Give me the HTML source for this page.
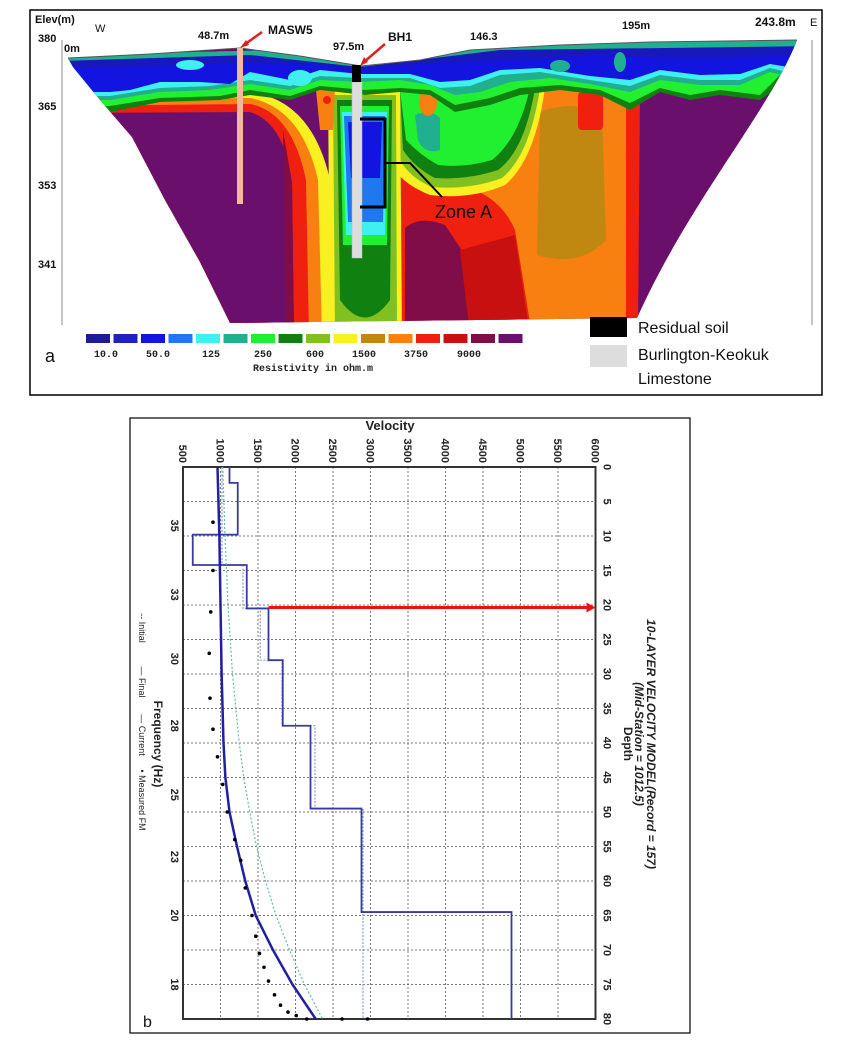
<!DOCTYPE html>
<html><head><meta charset="utf-8"><style>
body{margin:0;background:#fff;width:855px;height:1051px;overflow:hidden;font-family:"Liberation Sans",sans-serif}
svg{position:absolute;left:0;top:0}
</style></head><body>
<svg width="855" height="1051" viewBox="0 0 855 1051">
<g>
<rect x="30" y="10" width="792" height="385" fill="#fff" stroke="#000" stroke-width="1.5"/>
<defs><clipPath id="sec"><path d="M68,58 L150,54 L240,48 L300,56 L361,66 L420,60 L470,50 L560,45 L650,42 L797,40 C770,110 690,200 637,318 L230,323 L200,262 L165,200 L132,137 L100,100 L73,67 Z"/></clipPath></defs>
<g clip-path="url(#sec)">
<rect x="60" y="35" width="760" height="300" fill="#6a106c"/>
<path d="M470,92 L655,85 L645,335 L470,335Z" fill="#f88010"/>
<path d="M540,112 Q570,100 602,112 L606,240 Q580,268 537,255Z" fill="#c08810"/>
<rect x="578" y="92" width="25" height="38" rx="4" fill="#f02010"/>
<path d="M626,100 L660,90 L650,335 L626,335Z" fill="#f02010"/>
<path d="M640,92 L800,58 L800,335 L638,335Z" fill="#6a106c"/>
<path d="M625,75 L800,60 L800,70 L700,75 L640,95 Z" fill="#f02010"/>
<path d="M395,140 L460,185 Q500,195 515,230 L532,335 L395,335Z" fill="#f02010"/>
<path d="M405,228 Q420,215 445,225 L465,255 L472,335 L405,335Z" fill="#800c48"/>
<path d="M460,250 L515,235 L530,335 L470,335Z" fill="#c81010"/>
<path d="M395,90 L545,88 Q535,160 505,185 Q470,200 430,195 Q405,185 395,170Z" fill="#f8f020"/>
<path d="M398,90 L540,88 Q530,155 502,178 Q470,190 432,187 Q410,178 400,160Z" fill="#80c020"/>
<path d="M400,90 L535,88 Q525,150 498,170 Q468,180 435,178 Q415,168 403,150Z" fill="#108010"/>
<path d="M400,90 L530,88 Q518,140 492,160 Q465,168 438,165 Q420,155 406,140Z" fill="#20f030"/>
<path d="M415,115 Q430,108 440,118 L440,150 Q425,155 418,140Z" fill="#20b090"/>
<path d="M60,95 L250,92 Q312,100 330,180 L334,335 L60,335Z" fill="#f8f020"/>
<path d="M60,100 L250,98 Q302,108 318,180 L322,335 L60,335Z" fill="#f88010"/>
<path d="M60,106 L250,104 Q292,112 306,180 L309,335 L60,335Z" fill="#f02010"/>
<path d="M60,113 L250,112 Q284,122 292,183 L294,335 L60,335Z" fill="#6a106c"/>
<path d="M283,130 L292,183 L294,335 L286,335 Z" fill="#800c48"/>
<path d="M328,88 L400,88 L402,335 L330,335Z" fill="#f8f020"/>
<path d="M333,95 L396,95 L397,335 L335,335Z" fill="#80c020"/>
<path d="M337,100 L392,100 L390,300 Q365,335 340,300Z" fill="#108010"/>
<path d="M340,106 L389,106 L387,245 L343,245Z" fill="#20f030"/>
<path d="M342,112 L387,112 L385,235 L346,235Z" fill="#3ef0f0"/>
<path d="M344,116 L385,116 L383,222 L348,222Z" fill="#1e78f0"/>
<path d="M348,122 L382,122 L380,178 L351,178Z" fill="#1414e0"/>
<path d="M316,90 L335,88 L333,130 L320,130Z" fill="#f88010"/>
<ellipse cx="327" cy="100" rx="4" ry="4" fill="#f02010"/>
<ellipse cx="428" cy="102" rx="9" ry="14" fill="#f88010"/>
<path d="M60,55 L820,38 L820,105 L790,80 L760,100 L720,95 L690,100 L660,92 L630,110 L600,95 L560,90 L520,95 L490,105 L455,112 L430,95 L400,92 L365,95 L320,90 L290,100 L250,95 L220,100 L160,102 L110,112 L60,112Z" fill="#108010"/>
<path d="M60,55 L820,38 L820,95 L780,75 L760,95 L720,90 L690,95 L660,88 L630,103 L600,90 L560,85 L520,88 L490,98 L455,105 L430,90 L400,88 L365,90 L320,86 L290,96 L250,90 L220,96 L160,98 L110,106 L60,106Z" fill="#20f030"/>
<path d="M60,55 L820,38 L820,85 L770,72 L740,85 L700,85 L660,80 L630,92 L590,84 L550,78 L510,82 L480,92 L455,95 L430,85 L400,80 L360,82 L320,80 L290,90 L250,84 L210,90 L160,92 L110,100 L60,100Z" fill="#20b090"/>
<path d="M60,55 L820,38 L820,80 L770,68 L740,80 L700,80 L660,75 L630,86 L590,80 L540,72 L500,75 L470,86 L440,88 L410,78 L360,78 L320,76 L290,86 L250,80 L210,86 L160,88 L110,96 L60,96Z" fill="#3ef0f0"/>
<path d="M60,55 L820,38 L820,72 L770,64 L740,74 L700,75 L660,70 L630,80 L590,76 L540,68 L500,70 L470,80 L440,82 L410,74 L360,74 L320,70 L290,80 L250,72 L230,84 L200,82 L160,82 L130,90 L110,92 L60,92Z" fill="#1414e0"/>
<path d="M60,55 L820,38 L820,55 L700,58 L600,56 L500,60 L420,64 L360,70 L300,63 L200,64 L100,68 L60,68Z" fill="#1c1c9a" opacity="0.5"/>
<path d="M60,55 L820,38 L820,46 L500,50 L360,67 L250,55 L60,61Z" fill="#20b090"/>
<ellipse cx="190" cy="65" rx="14" ry="5" fill="#3ef0f0"/>
<ellipse cx="300" cy="78" rx="12" ry="8" fill="#3ef0f0"/>
<ellipse cx="620" cy="62" rx="6" ry="10" fill="#20b090"/>
<ellipse cx="560" cy="66" rx="10" ry="6" fill="#20b090"/>
</g>
<path d="M68,58 L150,54 L240,48 L300,56 L361,66 L420,60 L470,50 L560,45 L650,42 L797,40" fill="none" stroke="#555" stroke-width="1"/>
<line x1="62" y1="40" x2="62" y2="325" stroke="#888"/>
<line x1="812" y1="40" x2="812" y2="325" stroke="#888"/>
<rect x="237" y="48" width="6" height="156" fill="#f4b8a0"/>
<rect x="352" y="82" width="10" height="176" fill="#ddd" stroke="#bbb" stroke-width="0.5"/>
<rect x="352" y="65" width="9" height="17" fill="#000"/>
<g stroke="#000" stroke-width="3" fill="none">
<path d="M360,119 L385,119 L385,207 L360,207"/><path d="M385,163 L410,163 L442,197" stroke-width="2"/></g>
<g stroke="#e02020" stroke-width="2.5" fill="#e02020">
<line x1="262" y1="32" x2="244" y2="45"/><polygon points="240,48 246,40 249,45" stroke="none"/>
<line x1="385" y1="44" x2="364" y2="62"/><polygon points="360,66 364,57 368,62" stroke="none"/></g>
<g font-size="11" font-weight="bold" fill="#111">
<text x="35" y="23">Elev(m)</text>
<text x="38" y="42">380</text>
<text x="38" y="110">365</text>
<text x="38" y="189">353</text>
<text x="38" y="268">341</text>
<text x="64" y="52">0m</text>
<text x="95" y="32" font-weight="normal">W</text>
<text x="198" y="39">48.7m</text>
<text x="268" y="34" font-size="12">MASW5</text>
<text x="333" y="50">97.5m</text>
<text x="388" y="41" font-size="12">BH1</text>
<text x="470" y="40">146.3</text>
<text x="622" y="29">195m</text>
<text x="755" y="26" font-size="12">243.8m</text>
<text x="810" y="26" font-weight="normal">E</text>
</g>
<text x="435" y="218" font-size="18" fill="#111">Zone A</text>
<g id="cbar"></g>
<g font-family="Liberation Mono" font-size="10" font-weight="bold" fill="#222">
<text x="94" y="357">10.0</text><text x="146" y="357">50.0</text><text x="202" y="357">125</text><text x="254" y="357">250</text><text x="306" y="357">600</text><text x="352" y="357">1500</text><text x="404" y="357">3750</text><text x="457" y="357">9000</text>
<text x="313" y="371" text-anchor="middle">Resistivity in ohm.m</text></g>
<text x="45" y="362" font-size="18" fill="#111">a</text>
<rect x="590" y="317" width="37" height="20" fill="#000"/>
<rect x="590" y="345" width="37" height="22" fill="#ddd"/>
<g font-size="16" fill="#111">
<text x="638" y="333">Residual soil</text><text x="638" y="360">Burlington-Keokuk</text><text x="638" y="384">Limestone</text></g>
</g>
<g>
<rect x="130" y="418" width="560" height="615" fill="#fff" stroke="#000" stroke-width="1.2"/>
<g id="chart"></g>
<text x="143" y="1027" font-size="16" fill="#111">b</text>
</g>
</svg>
<script>
const NS='http://www.w3.org/2000/svg';
const cbarColors=['#1a1a7a','#1c1c9a','#2020c0','#1414e0','#1e78f0','#3ef0f0','#20b090','#20f030','#108010','#80c020','#f8f020','#c08810','#f88010','#f02010','#c81010','#800c48','#6a106c'];
const cb=document.getElementById('cbar');
cbarColors.slice(1).forEach((c,i)=>{const r=document.createElementNS(NS,'rect');
r.setAttribute('x',86+i*27.5);r.setAttribute('y',334);r.setAttribute('width',24);r.setAttribute('height',9);r.setAttribute('fill',c);


cb.appendChild(r);});

const velTicks=[500,1000,1500,2000,2500,3000,3500,4000,4500,5000,5500,6000];
const depthTicks=[0,5,10,15,20,25,30,35,40,45,50,55,60,65,70,75,80];
const freqLabels=['35','33','30','28','25','23','20','18'];
const freqDepths=[8.5,18.5,27.8,37.5,47.5,56.5,65,75];
const finalDepths=[0,2.3,9.8,14.2,20.5,28,37.5,49.5,64.5,80];
const finalVels=[1120,1230,630,1350,1640,1830,2200,2880,4880];
const initDepths=[0,14.2,20.5,28,37.5,49.5,64.5];
const initVels=[1020,1300,1530,1820,2260,2900,2900];
const curveDepths=[0,10,20,30,40,45,50,55,60,65,70,75,80];
const curveVels=[960,985,1000,1015,1040,1065,1120,1220,1330,1470,1700,1960,2270];
const greenVels=[1030,1060,1100,1160,1250,1310,1390,1480,1600,1740,1920,2120,2360];
const measDepths=[8,15,21,27,33.5,38,42,46,50,54,57,61,65,68,70.5,72.5,74.5,76.5,78,79,79.5,80,80,80];
const measVels=[900,900,870,850,860,900,960,1030,1090,1190,1270,1330,1420,1470,1520,1580,1640,1720,1800,1900,2010,2150,2620,2960];
const redDepth=20.5;

const X=v=>183+(v-500)/500*37.5;
const Y=d=>467+d*6.9;
const g=document.getElementById('chart');
function mk(tag,attrs,name){const e=document.createElementNS(NS,tag);for(const k in attrs)e.setAttribute(k,attrs[k]);


g.appendChild(e);return e;}
velTicks.forEach(v=>{mk('line',{x1:X(v),x2:X(v),y1:Y(0),y2:Y(80),stroke:'#777','stroke-width':1,'stroke-dasharray':'2,2'},'grid-vertical');
const t=mk('text',{x:0,y:0,'font-size':11,'font-weight':'bold',fill:'#222',transform:`translate(${X(v)-4},${Y(0)-4}) rotate(90)`,'text-anchor':'end'},'velocity-tick-label');t.textContent=v;});
depthTicks.forEach(d=>{mk('line',{x1:X(500),x2:X(6000),y1:Y(d),y2:Y(d),stroke:'#777','stroke-width':1,'stroke-dasharray':'2,2'},'grid-horizontal');
const t=mk('text',{x:0,y:0,'font-size':11,'font-weight':'bold',fill:'#222',transform:`translate(${X(6000)+8},${Y(d)}) rotate(90)`,'text-anchor':'middle'},'depth-tick-label');t.textContent=d;});
freqLabels.forEach((f,i)=>{const t=mk('text',{x:0,y:0,'font-size':11,'font-weight':'bold',fill:'#222',transform:`translate(${X(500)-12},${Y(freqDepths[i])}) rotate(90)`,'text-anchor':'middle'},'frequency-tick-label');t.textContent=f;});
mk('rect',{x:X(500),y:Y(0),width:X(6000)-X(500),height:Y(80)-Y(0),fill:'none',stroke:'#333','stroke-width':2},'plot-frame');
function step(ds,vs){let p=`M${X(vs[0])},${Y(ds[0])}`;for(let i=0;i<vs.length;i++){p+=` L${X(vs[i])},${Y(ds[i])} L${X(vs[i])},${Y(ds[i+1]!==undefined?ds[i+1]:80)}`;}return p;}
mk('path',{d:step(initDepths,initVels),fill:'none',stroke:'#8899dd','stroke-width':1.2,'stroke-dasharray':'2,1.5'},'initial-model-line');
mk('path',{d:step(finalDepths,finalVels),fill:'none',stroke:'#3a3a9a','stroke-width':1.8},'final-model-line');
mk('path',{d:curveDepths.map((d,i)=>(i?'L':'M')+X(greenVels[i])+','+Y(d)).join(' '),fill:'none',stroke:'#66bb99','stroke-width':1.2,'stroke-dasharray':'2,2'},'current-dispersion-curve');
mk('path',{d:curveDepths.map((d,i)=>(i?'L':'M')+X(curveVels[i])+','+Y(d)).join(' '),fill:'none',stroke:'#2020a0','stroke-width':2.5},'final-dispersion-curve');
measDepths.forEach((d,i)=>mk('circle',{cx:X(measVels[i]),cy:Y(d),r:1.8,fill:'#000'},'measured-point'));
mk('line',{x1:X(1640),x2:X(6000)-6,y1:Y(redDepth)-1,y2:Y(redDepth)-1,stroke:'#ee1111','stroke-width':3},'red-arrow');
mk('polygon',{points:`${X(6000)},${Y(redDepth)-1} ${X(6000)-9},${Y(redDepth)-6} ${X(6000)-9},${Y(redDepth)+4}`,fill:'#ee1111'},'red-arrowhead');
const labs=[['Velocity',390,430,0,13,'bold'],['Depth',624,744,90,12,'bold'],['10-LAYER VELOCITY MODEL(Record = 157)',647,744,90,12,'bold'],['(Mid-Station = 1012.5)',635,744,90,12,'bold'],['Frequency (Hz)',154,744,90,12,'bold'],['-- Initial',139,628,90,9,'normal'],['— Final',139,682,90,9,'normal'],['— Current',139,735,90,9,'normal'],['• Measured FM',139,800,90,9,'normal']];
labs.forEach(l=>{const t=mk('text',{x:0,y:0,'font-size':l[4],'font-weight':l[5],'font-style':l[0].startsWith('10')||l[0].startsWith('(')?'italic':'normal',fill:'#222','text-anchor':'middle',transform:`translate(${l[1]},${l[2]}) rotate(${l[3]})`},'axis-label');t.textContent=l[0];});
</script>
</body></html>
